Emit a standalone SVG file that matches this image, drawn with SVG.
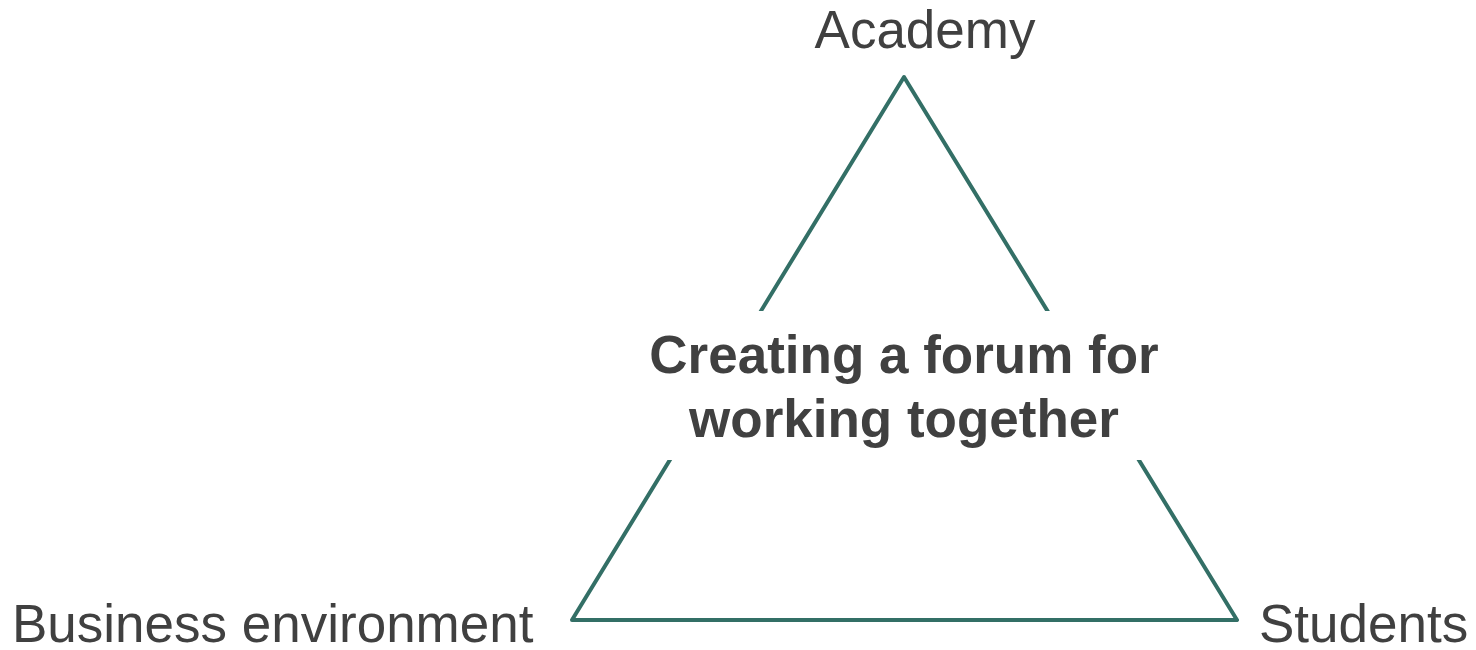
<svg xmlns="http://www.w3.org/2000/svg" width="1476" height="650" viewBox="0 0 1476 650">
<style>
.lbl{font-family:"Liberation Sans",Arial,sans-serif;font-size:53px;fill:#404040}
.ctr{font-family:"Liberation Sans",Arial,sans-serif;font-size:53px;font-weight:bold;fill:#404040;text-anchor:middle}
.edge{fill:none;stroke:#336f66;stroke-width:4;stroke-linejoin:round;stroke-linecap:round}
</style>
<rect width="1476" height="650" fill="#ffffff"/>
<g id="connectors">
<path class="edge" d="M572,620 L904,77 L1237,620 Z"/>
</g>
<rect x="640" y="311" width="540" height="149" fill="#ffffff"/>
<g id="center">
<text class="ctr" x="904" y="373">Creating a forum for</text>
<text class="ctr" x="904" y="437">working together</text>
</g>
<g id="academy"><text class="lbl" x="925" y="48" text-anchor="middle">Academy</text></g>
<g id="business"><text class="lbl" x="12" y="642">Business environment</text></g>
<g id="students"><text class="lbl" x="1259" y="642">Students</text></g>
</svg>
